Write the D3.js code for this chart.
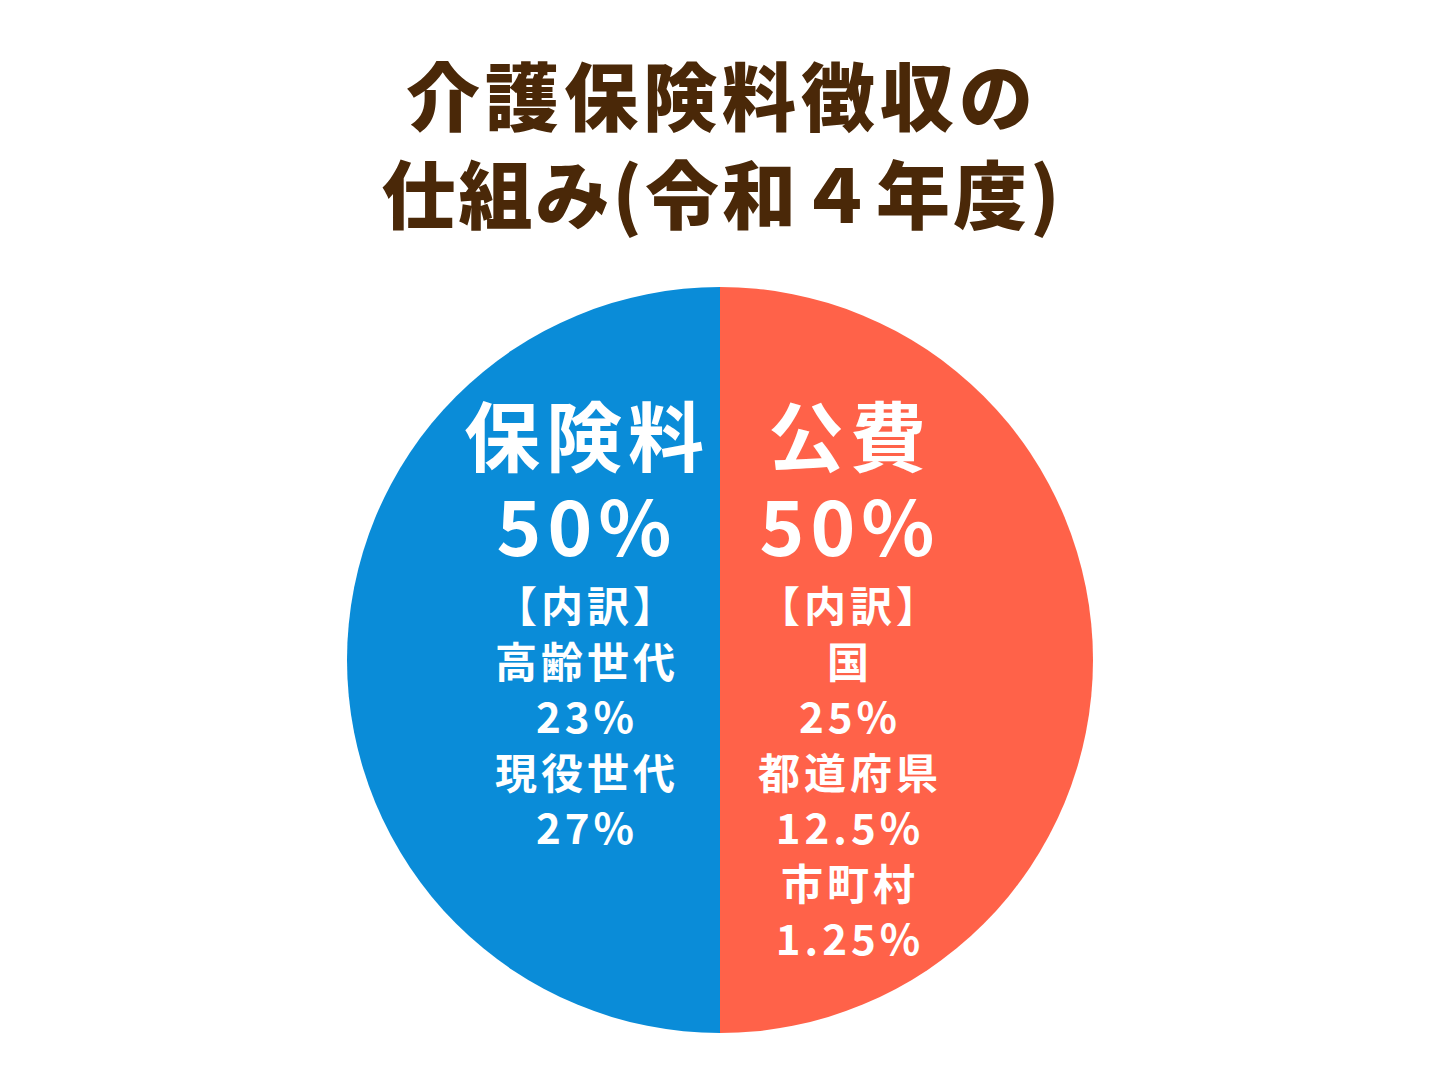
<!DOCTYPE html>
<html><head><meta charset="utf-8">
<script src="https://cdn.jsdelivr.net/npm/d3@7"></script>
<style>body{margin:0;background:#fff}svg{display:block}</style>
</head><body>
<script>
const titleLines = ["介護保険料徴収の", "仕組み(令和４年度)"];
const categories = ["公費", "保険料"];
const values = [50, 50];
const colors = ["#FF6249", "#0A8CD8"];
const percentLabels = ["50%", "50%"];
const breakdowns = [
  ["【内訳】", "国", "25%", "都道府県", "12.5%", "市町村", "1.25%"],
  ["【内訳】", "高齢世代", "23%", "現役世代", "27%"]
];
const W = 1452, H = 1089;
const svg = d3.select("body").append("svg").attr("width", W).attr("height", H);
const font = "'Noto Sans CJK JP','Noto Sans',sans-serif";
svg.selectAll("text.title").data(titleLines).join("text")
  .attr("x", 722).attr("y", (d, i) => 125 + i * 98)
  .attr("text-anchor", "middle").attr("font-family", font).attr("font-weight", 900)
  .attr("font-size", 74).attr("letter-spacing", (d, i) => i ? 3 : 5).attr("fill", "#4A2808").text(d => d);
const cx = 720, cy = 660, r = 373;
const pie = d3.pie().sort(null).value(d => d);
const arc = d3.arc().innerRadius(0).outerRadius(r);
const g = svg.append("g").attr("transform", `translate(${cx},${cy})`);
g.selectAll("path").data(pie(values)).join("path").attr("d", arc).attr("fill", (d, i) => colors[i]);
const xs = [850, 587];
categories.forEach((c, i) => {
  const t = svg.append("g").attr("font-family", font).attr("font-weight", 700)
    .attr("fill", "#fff").attr("text-anchor", "middle");
  t.append("text").attr("x", xs[i]).attr("y", 466).attr("font-size", 76).attr("letter-spacing", 6).text(c);
  t.append("text").attr("x", xs[i]).attr("y", 556).attr("font-size", 76).attr("letter-spacing", 6).text(percentLabels[i]);
  breakdowns[i].forEach((s, j) => {
    t.append("text").attr("x", xs[i]).attr("y", 622 + j * 55.5).attr("font-size", 42)
      .attr("letter-spacing", 4).text(s);
  });
});
</script>
</body></html>
